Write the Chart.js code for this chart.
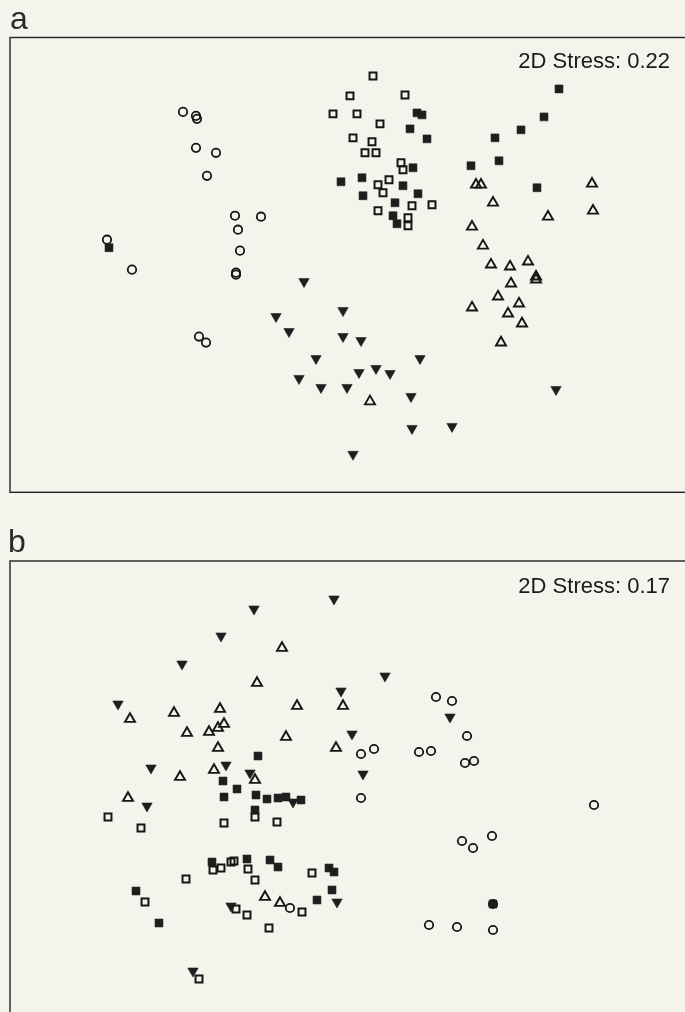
<!DOCTYPE html>
<html>
<head>
<meta charset="utf-8">
<title>NMDS ordination</title>
<style>
  body { margin: 0; background: #f4f4ed; overflow: hidden; width: 685px; height: 1012px; position: relative; }
  canvas { position: absolute; left: 0; }
  #ca { top: 0; }
  #cb { top: 500px; }
</style>
</head>
<body>
<canvas id="ca" width="760" height="500"></canvas>
<canvas id="cb" width="760" height="540"></canvas>
<script src="https://cdn.jsdelivr.net/npm/chart.js"></script>
<script>
// panel a (2D stress 0.22) - MDS coordinates
var stressA = "2D Stress: 0.22";
var circlesA = [[-1.57,1.53],[-1.44,1.49],[-1.43,1.46],[-1.44,1.17],[-1.24,1.12],[-1.33,0.89],[-1.05,0.49],[-0.79,0.48],
  [-1.02,0.35],[-1.00,0.14],[-1.04,-0.08],[-1.04,-0.10],[-2.33,0.25],[-2.08,-0.05],[-1.41,-0.72],[-1.34,-0.78]];
var openSqA = [[0.33,1.89],[0.10,1.69],[0.65,1.70],[-0.07,1.51],[0.17,1.51],[0.40,1.41],[0.13,1.27],[0.32,1.23],
  [0.25,1.12],[0.36,1.12],[0.61,1.02],[0.63,0.95],[0.38,0.80],[0.49,0.85],[0.43,0.72],[0.72,0.59],[0.92,0.60],
  [0.38,0.54],[0.68,0.47],[0.68,0.39]];
var filledSqA = [[0.77,1.52],[0.82,1.50],[0.70,1.36],[0.87,1.26],[0.73,0.97],[0.01,0.83],[0.22,0.87],[0.23,0.69],
  [0.63,0.79],[0.78,0.71],[0.55,0.62],[0.53,0.49],[0.57,0.41],[1.31,0.99],[1.59,1.04],[1.55,1.27],[1.81,1.35],
  [2.04,1.48],[2.19,1.76],[1.97,0.77],[-2.31,0.17]];
var openTriA = [[1.36,0.80],[1.41,0.80],[1.53,0.62],[2.52,0.81],[2.53,0.54],[2.08,0.48],[1.32,0.38],[1.43,0.19],
  [1.51,0.00],[1.70,-0.02],[1.88,0.03],[1.96,-0.12],[1.96,-0.15],[1.71,-0.19],[1.58,-0.32],[1.79,-0.39],
  [1.32,-0.43],[1.68,-0.49],[1.82,-0.59],[1.61,-0.78],[0.30,-1.37]];
var invTriA = [[-0.36,-0.17],[0.03,-0.46],[-0.64,-0.52],[-0.51,-0.67],[0.03,-0.72],[0.21,-0.76],[-0.24,-0.94],
  [0.80,-0.94],[0.19,-1.08],[0.36,-1.04],[0.50,-1.09],[-0.41,-1.14],[-0.19,-1.23],[0.07,-1.23],[0.71,-1.32],
  [2.16,-1.25],[0.72,-1.64],[1.12,-1.62],[0.13,-1.90]];

// panel b (2D stress 0.17)
var stressB = "2D Stress: 0.17";
var circlesB = [[0.96,0.93],[1.12,0.89],[1.27,0.54],[0.21,0.36],[0.34,0.41],[0.79,0.38],[0.91,0.39],[1.25,0.27],
  [1.34,0.29],[0.21,-0.08],[2.54,-0.15],[1.22,-0.51],[1.33,-0.58],[1.52,-0.46],[-0.50,-1.18],[0.89,-1.35],
  [1.17,-1.37],[1.53,-1.40],[1.53,-1.14]];
var openSqB = [[-2.32,-0.27],[-1.99,-0.38],[-1.16,-0.33],[-0.85,-0.27],[-0.63,-0.32],[-1.27,-0.80],[-1.19,-0.78],
  [-1.09,-0.72],[-1.06,-0.71],[-0.92,-0.79],[-0.85,-0.90],[-1.54,-0.89],[-0.28,-0.83],[-1.95,-1.12],[-1.04,-1.19],
  [-0.93,-1.25],[-0.38,-1.22],[-0.71,-1.38],[-1.41,-1.89]];
var filledSqB = [[-0.82,0.34],[-1.17,0.09],[-1.03,0.01],[-1.16,-0.07],[-0.84,-0.05],[-0.73,-0.09],[-0.62,-0.08],
  [-0.54,-0.07],[-0.39,-0.10],[-0.85,-0.20],[-1.28,-0.72],[-0.93,-0.69],[-0.70,-0.70],[-0.62,-0.77],[-0.11,-0.78],
  [-0.06,-0.82],[-0.08,-1.00],[-0.23,-1.10],[-2.04,-1.01],[-1.81,-1.33],[1.53,-1.14]];
var openTriB = [[-0.58,1.42],[-0.83,1.07],[-1.20,0.81],[-0.43,0.84],[0.03,0.84],[-1.66,0.77],[-2.10,0.71],[-1.53,0.57],
  [-1.31,0.58],[-1.22,0.62],[-1.16,0.66],[-0.54,0.53],[-1.22,0.42],[-0.04,0.42],[-1.26,0.20],[-1.60,0.13],
  [-0.85,0.10],[-2.12,-0.08],[-0.75,-1.07],[-0.60,-1.13]];
var invTriB = [[-0.06,1.91],[-0.86,1.81],[-1.19,1.54],[-1.58,1.26],[0.45,1.14],[0.01,0.99],[-2.22,0.86],[1.10,0.73],
  [0.12,0.56],[-1.14,0.25],[-1.89,0.22],[-0.90,0.17],[0.23,0.16],[-1.93,-0.16],[-0.47,-0.12],[-1.09,-1.16],
  [-0.03,-1.12],[-1.47,-1.81]];

var ink = "#161616";

function pts(arr) {
    return arr.map(function (p) { return { x: p[0], y: p[1] }; });
}

function groups(circ, osq, fsq, otri, itri) {
    return [
        { data: pts(fsq), pointStyle: "rect", pointRadius: 5.6, backgroundColor: "#1e1e1e", borderColor: "#1e1e1e", borderWidth: 0.6 },
        { data: pts(itri), pointStyle: "triangle", rotation: 180, pointRadius: 6, backgroundColor: "#1e1e1e", borderColor: "#1e1e1e", borderWidth: 0.6 },
        { data: pts(osq), pointStyle: "rect", pointRadius: 4.9, backgroundColor: "rgba(0,0,0,0)", borderColor: ink, borderWidth: 2 },
        { data: pts(otri), pointStyle: "triangle", pointRadius: 5.8, backgroundColor: "rgba(0,0,0,0)", borderColor: ink, borderWidth: 1.9 },
        { data: pts(circ), pointStyle: "circle", pointRadius: 4.2, backgroundColor: "rgba(0,0,0,0)", borderColor: ink, borderWidth: 1.8 }
    ];
}

// frame, panel letter and stress value
var framePlugin = {
    id: "frame",
    afterDatasetsDraw: function (chart, args, o) {
        var a = chart.chartArea, ctx = chart.ctx;
        ctx.save();
        ctx.strokeStyle = "#222";
        ctx.lineWidth = 1.4;
        ctx.strokeRect(a.left, a.top, a.right - a.left, a.bottom - a.top);
        ctx.fillStyle = "#1a1a1a";
        ctx.font = '22px "Liberation Sans", Arial, sans-serif';
        ctx.textAlign = "right";
        ctx.textBaseline = "alphabetic";
        ctx.fillText(o.stress, 670, o.stressY);
        ctx.fillStyle = "#2a2a2a";
        ctx.font = '32px "Liberation Sans", Arial, sans-serif';
        ctx.textAlign = "left";
        ctx.fillText(o.label, o.labelX, o.labelY);
        ctx.restore();
    }
};

function makeChart(id, sets, yMin, yMax, pad, frameOpts) {
    return new Chart(document.getElementById(id), {
        type: "scatter",
        data: { datasets: sets },
        options: {
            responsive: false,
            animation: false,
            events: [],
            layout: { padding: pad },
            scales: {
                x: { type: "linear", display: false, min: -3.3, max: 3.6 },
                y: { type: "linear", display: false, min: yMin, max: yMax }
            },
            plugins: {
                legend: { display: false },
                tooltip: { enabled: false },
                frame: frameOpts
            }
        },
        plugins: [framePlugin]
    });
}

makeChart("ca", groups(circlesA, openSqA, filledSqA, openTriA, invTriA), -2.28, 2.275,
    { left: 10, top: 37.5, right: 60, bottom: 7 },
    { stress: stressA, stressY: 68, label: "a", labelX: 10, labelY: 29 });

makeChart("cb", groups(circlesB, openSqB, filledSqB, openTriB, invTriB), -2.4, 2.29,
    { left: 10, top: 61, right: 60, bottom: 10 },
    { stress: stressB, stressY: 93, label: "b", labelX: 8, labelY: 51.5 });
</script>
</body>
</html>
